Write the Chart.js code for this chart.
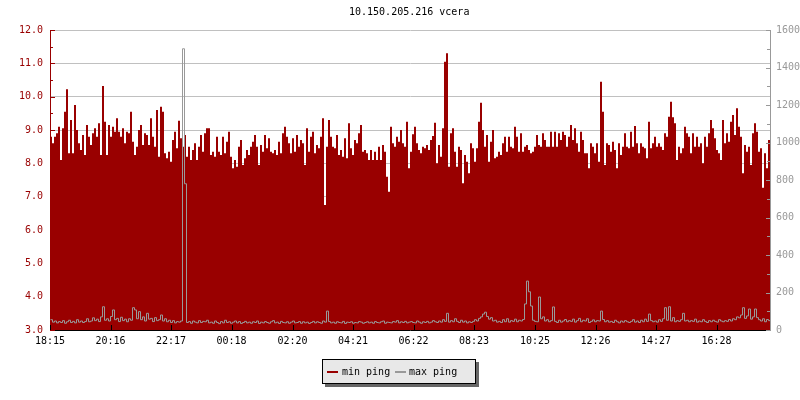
<!DOCTYPE html>
<html>
<head>
<meta charset="utf-8">
<script src="https://cdn.jsdelivr.net/npm/chart.js@4.4.1/dist/chart.umd.min.js"></script>
<style>
body{margin:0;background:#fff;}
#wrap{position:relative;width:800px;height:400px;font-family:'DejaVu Sans Mono',monospace;font-size:10px;color:#000;}
#title{position:absolute;left:349px;top:6px;white-space:pre;}
#legend{position:absolute;left:322px;top:359px;width:152px;height:23px;background:#e8e8e8;border:1px solid #000;box-shadow:3px 3px 0 #666;line-height:23px;}
#legend .sw{position:absolute;top:11px;width:11px;height:2px;}
#legend .tx{position:absolute;top:0;white-space:pre;}
</style>
</head>
<body>
<div id="wrap">
  <canvas id="c" width="800" height="400"></canvas>
  <div id="title">10.150.205.216 vcera</div>
  <div id="legend">
    <span class="sw" style="left:4px;background:#990000"></span><span class="tx" style="left:19px">min ping</span>
    <span class="sw" style="left:72px;background:#999999"></span><span class="tx" style="left:86px">max ping</span>
  </div>
</div>
<script>
const RED='#990000', GRAY='#999999', MONO="'DejaVu Sans Mono', monospace";
const SAMPLE_MINUTES=4, TOTAL_MINUTES=1440;

// min ping (ms), one value per 4 minutes starting 18:15
const minPing=[
  8.8,8.6,8.8,8.9,9.1,8.1,9.05,9.55,10.22,8.3,
  9.3,8.3,9.75,9.0,8.6,8.4,8.85,8.25,9.15,8.8,
  8.55,8.9,9.05,8.8,9.2,8.25,10.32,9.25,8.25,9.15,
  8.8,9.1,8.95,9.35,8.95,8.8,9.05,8.6,8.95,8.9,
  9.55,8.65,8.25,8.5,9.0,9.15,8.55,8.9,8.85,8.55,
  9.35,8.8,8.5,9.6,8.2,9.7,9.55,8.3,8.15,8.35,
  8.05,8.7,8.95,8.45,9.28,8.75,8.5,8.85,8.2,8.5,
  8.1,8.4,8.6,8.1,8.5,8.85,8.35,8.9,9.05,9.05,
  8.25,8.35,8.2,8.8,8.35,8.25,8.8,8.3,8.65,8.95,
  8.2,7.85,8.1,7.9,8.5,8.7,7.95,8.15,8.4,8.25,
  8.5,8.65,8.85,8.5,7.95,8.55,8.35,8.85,8.45,8.75,
  8.35,8.3,8.4,8.25,8.65,8.3,8.9,9.1,8.8,8.6,
  8.3,8.75,8.35,8.85,8.5,8.7,8.6,7.95,9.05,8.35,
  8.8,8.95,8.3,8.55,8.45,8.8,9.35,6.75,8.5,9.3,
  8.8,8.5,8.45,8.85,8.25,8.4,8.2,8.75,8.15,9.2,
  8.45,8.25,8.7,8.6,8.9,9.15,8.35,8.4,8.3,8.1,
  8.4,8.1,8.35,8.1,8.5,8.1,8.55,8.35,7.6,7.15,
  9.1,8.6,8.5,8.8,8.65,
  9.0,8.6,8.5,9.25,7.85,8.35,8.87,9.1,8.6,8.4,
  8.3,8.5,8.45,8.55,8.4,8.7,8.82,9.22,8.0,8.55,
  8.2,9.05,11.05,11.3,7.9,8.9,9.05,8.35,7.9,8.5,
  8.4,7.4,8.25,8.05,7.7,8.6,8.45,8.05,8.45,9.25,
  9.82,9.0,8.5,8.85,8.05,8.65,9.0,8.15,8.2,8.35,
  8.25,8.6,8.8,8.35,8.8,8.5,8.45,9.1,8.8,8.35,
  8.9,8.35,8.5,8.55,8.4,8.3,8.35,8.5,8.85,8.55,
  8.5,8.9,8.7,8.5,8.5,8.95,8.5,8.95,8.5,8.9,
  8.7,8.95,8.85,8.5,8.8,9.15,8.7,9.05,8.6,8.35,
  8.95,8.7,8.3,8.3,7.85,8.6,8.5,8.3,8.6,8.05,
  10.45,9.55,7.95,8.6,8.55,8.35,8.65,8.4,7.85,8.6,
  8.25,8.5,8.9,8.5,8.45,8.95,8.5,9.12,8.6,8.3,
  8.6,8.5,8.45,8.15,9.25,8.45,8.6,8.8,8.5,8.6,
  8.5,8.4,8.9,8.8,9.4,9.85,9.38,9.2,8.1,8.5,
  8.3,8.45,9.1,8.9,8.8,8.3,8.9,8.5,8.8,8.5,
  8.6,8.0,8.8,8.5,8.9,9.3,9.05,8.75,8.4,8.3,
  8.1,9.3,8.6,8.9,8.65,9.25,9.45,8.85,9.65,9.1,
  8.8,7.7,8.55,8.35,8.5,7.95,8.9,9.2,8.95,8.35,
  8.45,7.27,8.3,7.85,8.7
];

// max ping (ms), same sampling
const maxPing=[
  55,42,48,38,45,40,50,36,44,52,40,46,38,55,42,48,40,45,60,44,
  48,65,50,58,45,70,124,52,60,48,72,107,55,62,45,68,50,58,44,60,
  52,119,107,60,98,55,70,48,89,58,62,45,66,50,55,80,48,60,44,52,
  40,50,38,45,42,48,1500,780,40,45,36,48,42,38,50,40,46,44,52,38,
  42,36,48,40,34,45,38,52,40,44,36,42,48,38,45,35,40,46,38,42,
  36,44,40,48,35,42,38,45,40,36,44,50,38,42,35,46,40,38,44,36,
  42,48,38,40,45,36,44,38,42,35,40,46,38,44,40,36,48,42,101,45,
  38,42,36,44,40,38,46,35,42,40,44,36,40,38,45,42,36,40,44,38,
  42,36,45,40,38,44,48,36,42,40,38,45,42,50,38,44,40,46,38,42,
  45,40,38,48,42,36,44,40,46,38,42,50,44,40,48,42,55,46,89,42,
  50,44,60,46,40,52,42,48,38,44,40,46,55,48,62,70,85,95,72,58,
  66,48,52,42,46,40,55,44,60,42,50,46,58,44,52,48,56,139,261,204,
  128,52,46,44,176,60,70,48,55,44,50,123,46,40,52,42,48,56,44,50,
  46,58,42,50,62,44,52,48,60,40,46,54,44,50,48,101,56,44,50,42,
  46,40,52,44,38,48,42,50,44,40,46,55,42,48,40,52,44,58,46,85,
  50,44,48,42,55,46,60,119,52,124,48,66,44,50,46,55,89,48,52,44,
  50,46,58,42,48,44,55,46,40,50,44,52,46,42,55,48,44,50,46,56,
  48,60,55,70,65,80,119,62,75,112,58,70,112,66,55,48,60,44,56,50
];

const tickMinutes=[0,121,242,363,485,606,727,848,970,1091,1212,1333];
const tickLabels=['18:15','20:16','22:17','00:18','02:20','04:21','06:22','08:23','10:25','12:26','14:27','16:28'];

// shift (minutes) lets the 1px gray line sit on pixel centres
function toPoints(arr,shift){
  const pts=arr.map((v,i)=>({x:i*SAMPLE_MINUTES+shift,y:v}));
  pts.push({x:TOTAL_MINUTES,y:arr[arr.length-1]}); // hold last step to the right edge
  return pts;
}

// tick marks drawn inside the plot, on top of the data
const innerTicks={
  id:'innerTicks',
  afterDatasetsDraw(chart){
    const {ctx,chartArea:a,scales:{x,y,y1}}=chart;
    ctx.save();
    ctx.lineWidth=1;
    ctx.strokeStyle='#000';
    ctx.beginPath();
    tickMinutes.forEach(m=>{
      const px=Math.round(x.getPixelForValue(m))+0.5;
      ctx.moveTo(px,a.bottom);ctx.lineTo(px,a.bottom-5);
    });
    ctx.stroke();
    ctx.strokeStyle=RED;
    ctx.beginPath();
    for(let v=y.min;v<=y.max;v+=0.5){
      const py=Math.round(y.getPixelForValue(v))+0.5;
      ctx.moveTo(a.left,py);ctx.lineTo(a.left+(v%1===0?5:3),py);
    }
    ctx.stroke();
    ctx.strokeStyle=GRAY;
    ctx.beginPath();
    for(let v=y1.min;v<=y1.max;v+=100){
      const py=Math.round(y1.getPixelForValue(v))+0.5;
      ctx.moveTo(a.right,py);ctx.lineTo(a.right-(v%200===0?4:3),py);
    }
    ctx.stroke();
    ctx.restore();
  }
};

const font={family:MONO,size:10};

new Chart(document.getElementById('c'),{
  type:'line',
  data:{
    datasets:[
      {label:'max ping',data:toPoints(maxPing,1),yAxisID:'y1',stepped:true,borderColor:GRAY,borderWidth:1,pointRadius:0,fill:false,order:0},
      {label:'min ping',data:toPoints(minPing,0),yAxisID:'y',stepped:true,borderColor:RED,backgroundColor:RED,borderWidth:0,pointRadius:0,fill:'start',order:1}
    ]
  },
  options:{
    responsive:false,
    animation:false,
    layout:{padding:{top:30,left:0,right:0,bottom:0}},
    plugins:{legend:{display:false},title:{display:false},tooltip:{enabled:false}},
    scales:{
      x:{
        type:'linear',min:0,max:TOTAL_MINUTES,z:1,
        afterFit:s=>{s.height=70;},
        afterBuildTicks:s=>{s.ticks=tickMinutes.map(v=>({value:v}));},
        ticks:{autoSkip:false,maxRotation:0,padding:5,color:'#000',font,callback:(v,i)=>tickLabels[i]},
        grid:{display:false,drawTicks:false},
        border:{color:'#000'}
      },
      y:{
        position:'left',min:3,max:12,
        afterFit:s=>{s.width=50;},
        ticks:{stepSize:1,padding:7,color:RED,font,callback:v=>v.toFixed(1)},
        grid:{color:'#c0c0c0',drawTicks:false},
        border:{color:RED}
      },
      y1:{
        position:'right',min:0,max:1600,z:1,
        afterFit:s=>{s.width=30;},
        ticks:{stepSize:200,padding:6,color:GRAY,font,callback:v=>String(v)},
        grid:{display:false,drawTicks:false},
        border:{color:GRAY}
      }
    }
  },
  plugins:[innerTicks]
});
</script>
</body>
</html>
